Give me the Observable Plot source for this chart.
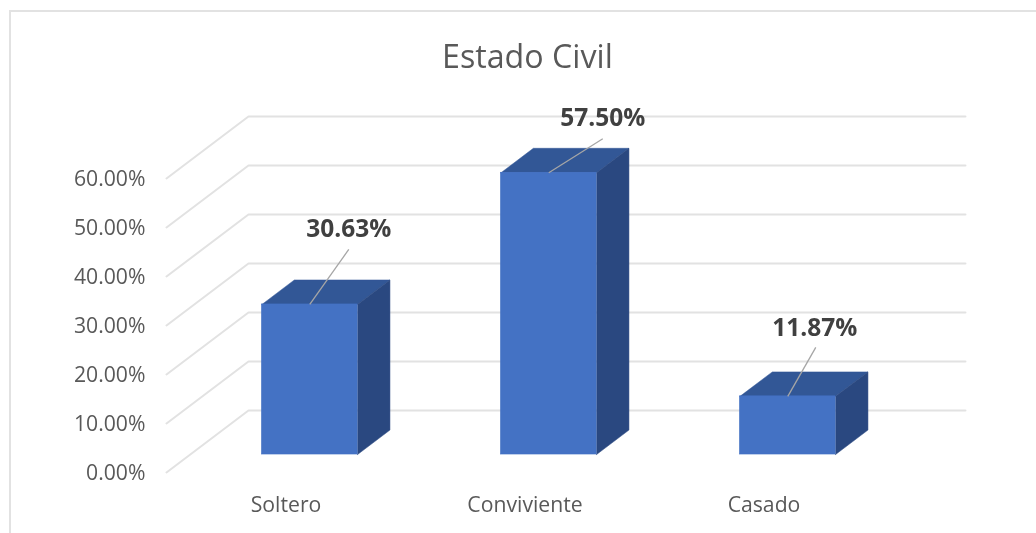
<!DOCTYPE html>
<html>
<head>
<meta charset="utf-8">
<style>
html,body{margin:0;padding:0;background:#fff;}
#wrap{position:relative;width:1036px;height:533px;overflow:hidden;}
#frame{position:absolute;left:9px;top:10px;width:1040px;height:600px;border:2px solid #e2e2e2;box-sizing:border-box;}
#chart{position:absolute;left:0;top:0;}
#chart svg{filter:blur(0.45px);}
</style>
<script src="https://cdn.jsdelivr.net/npm/d3@7"></script>
<script src="https://cdn.jsdelivr.net/npm/@observablehq/plot@0.6"></script>
</head>
<body>
<div id="wrap"><div id="frame"></div><div id="chart"></div></div>
<script>
const categories = ["Soltero", "Conviviente", "Casado"];
const values = [30.63, 57.5, 11.87];
const labels = ["30.63%", "57.50%", "11.87%"];
const yTicks = [0, 10, 20, 30, 40, 50, 60];

// oblique projection of the 3D chart, in scale units
const wallX = 0.343, wallY = 12.65;
const project = (x, v, depth) => ({x: x + depth * wallX, y: v + depth * wallY});
const barHalf = 0.2, nearDepth = 0.29, farDepth = 0.685;

// leader line ends and label offsets, in pixels
const leaderPx = [[39, -55], [54, -34], [28, -49]];
const labelPx = [[0, -20], [0, -21], [-1, -19]];
const pxX = 1 / 239, pxY = 1 / 4.9;

const bars = categories.map((c, i) => ({c, i, v: values[i], label: labels[i]}));
const face = (pts, d) => pts.map(([x, v, depth]) => ({...project(d.i + x, v, depth), key: d.c}));
const topFace = bars.flatMap(d => face([[-barHalf, d.v, nearDepth], [barHalf, d.v, nearDepth], [barHalf, d.v, farDepth], [-barHalf, d.v, farDepth], [-barHalf, d.v, nearDepth]], d));
const sideFace = bars.flatMap(d => face([[barHalf, 0, nearDepth], [barHalf, 0, farDepth], [barHalf, d.v, farDepth], [barHalf, d.v, nearDepth], [barHalf, 0, nearDepth]], d));
const grid = yTicks.flatMap(v => [
  {...project(-0.5, v, 0), key: v},
  {...project(-0.5, v, 1), key: v},
  {...project(2.5, v, 1), key: v}
]);
const front = bars.map(d => ({
  x1: project(d.i - barHalf, 0, nearDepth).x,
  x2: project(d.i + barHalf, 0, nearDepth).x,
  y1: project(0, 0, nearDepth).y,
  y2: project(0, d.v, nearDepth).y
}));
const leaders = bars.map(d => {
  const p = project(d.i, d.v, nearDepth);
  const x2 = p.x + leaderPx[d.i][0] * pxX, y2 = p.y - leaderPx[d.i][1] * pxY;
  return {x1: p.x, y1: p.y, x2, y2, label: d.label,
    lx: x2 + labelPx[d.i][0] * pxX, ly: y2 - labelPx[d.i][1] * pxY};
});

const plot = Plot.plot({
  width: 1036,
  height: 533,
  marginLeft: 166,
  marginRight: 153,
  marginTop: 178,
  marginBottom: 61,
  style: {fontFamily: "'Open Sans', sans-serif", background: "transparent", color: "#595959", overflow: "visible"},
  x: {domain: [-0.5, 2.5]},
  y: {domain: [0, 60]},
  marks: [
    Plot.line(grid, {x: "x", y: "y", z: "key", stroke: "#e2e2e2", strokeWidth: 2}),
    Plot.line(topFace, {x: "x", y: "y", z: "key", fill: "#325796", stroke: "#325796", strokeWidth: 0.5}),
    Plot.line(sideFace, {x: "x", y: "y", z: "key", fill: "#2a4880", stroke: "#2a4880", strokeWidth: 0.5}),
    Plot.rect(front, {x1: "x1", x2: "x2", y1: "y1", y2: "y2", fill: "#4472c4", stroke: "#4472c4", strokeWidth: 0.6}),
    Plot.link(leaders, {x1: "x1", y1: "y1", x2: "x2", y2: "y2", stroke: "#a6a6a6", strokeWidth: 1.3}),
    Plot.axisY({ticks: yTicks, tickSize: 0, tickPadding: 21, dy: 1, tickFormat: d => d.toFixed(2) + "%", fontSize: 21.2, label: null, fill: "#595959"}),
    Plot.axisX({ticks: [0, 1, 2], tickSize: 0, tickPadding: 24, tickFormat: i => categories[i], fontSize: 21.2, label: null, fill: "#595959"}),
    Plot.text(leaders, {x: "lx", y: "ly", text: "label", fontSize: 24.5, fontWeight: 700, fill: "#404040"}),
    Plot.text(["Estado Civil"], {x: () => 1.01, y: () => 84.7, fontSize: 32.2, fill: "#595959"})
  ]
});
document.getElementById("chart").appendChild(plot);
</script>
</body>
</html>
